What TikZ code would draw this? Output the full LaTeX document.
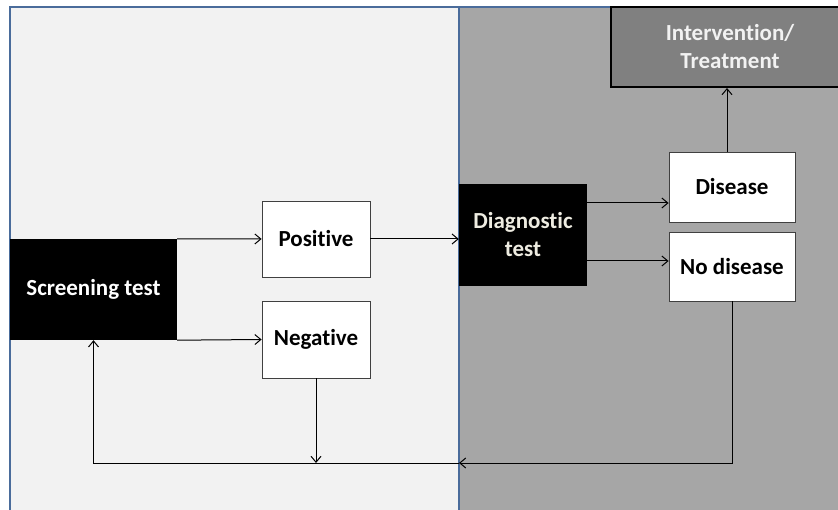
\documentclass[tikz,border=0pt]{standalone}
\usepackage{fontspec}
\setmainfont[Ligatures=NoCommon]{Carlito}
\usetikzlibrary{arrows.meta}

\definecolor{leftpane}{HTML}{F2F2F2}
\definecolor{rightpane}{HTML}{A6A6A6}
\definecolor{paneedge}{HTML}{4A6C9B}
\definecolor{treatfill}{HTML}{808080}
\definecolor{creamtext}{HTML}{EEECE1}

\tikzset{
  lbl/.style={font=\bfseries\fontsize{23}{28}\selectfont,align=center,inner sep=0pt},
  whitebox/.style={lbl,draw=black!75,fill=white,line width=.8pt},
  blackbox/.style={lbl,fill=black,text=white},
  flow/.style={->,line width=1pt}
}

\begin{document}
\begin{tikzpicture}[x=1pt,y=-1pt,>={Straight Barb[length=6pt,width=10pt]}]
    \useasboundingbox (0,0) rectangle (838,510);
    \clip (0,0) rectangle (838,510);
    \fill[leftpane] (10,7) rectangle (459,510);
    \fill[rightpane] (459,7) rectangle (838,510);
    \draw[paneedge,line width=2.4pt] (10,510)--(10,7)--(838,7);
    \draw[paneedge,line width=2.4pt] (459,7)--(459,510);

    \node[blackbox,minimum width=167pt,minimum height=101pt] (screen) at (93.5,289.5) {Screening test};
    \node[whitebox,minimum width=108pt,minimum height=76pt] (pos) at (316,239) {Positive};
    \node[whitebox,minimum width=108pt,minimum height=77pt] (neg) at (316,339.5) {Negative};
    \node[blackbox,text=creamtext,minimum width=128pt,minimum height=102pt] (diag) at (523,235) {Diagnostic\\test};
    \node[whitebox,minimum width=126pt,minimum height=70pt] (dis) at (732,187) {Disease};
    \node[whitebox,minimum width=126pt,minimum height=69pt] (nodis) at (732,266.5) {No disease};
    \node[lbl,draw=black,line width=2pt,fill=treatfill,text=leftpane,minimum width=238pt,minimum height=80pt] (treat) at (730,47) {Intervention/\\Treatment};
    \coordinate (meet) at (459,463);

    \draw[flow] (screen.north east) -- (pos.west);
    \draw[flow] (screen.south east) -- (neg.west);
    \draw[flow] (pos.east) -- (pos.east -| diag.west);
    \draw[flow] ([yshift=32pt]diag.east) coordinate (d1) -- (d1 -| dis.west);
    \draw[flow] ([yshift=-26pt]diag.east) coordinate (d2) -- (d2 -| nodis.west);
    \draw[flow] ([xshift=-5pt]dis.north) coordinate (d3) -- (d3 |- treat.south);
    \draw[flow] (nodis.south) |- (meet);
    \draw[flow] (meet) -| (screen.south);
    \draw[flow] (neg.south) -- (neg.south |- meet);
\end{tikzpicture}
\end{document}
